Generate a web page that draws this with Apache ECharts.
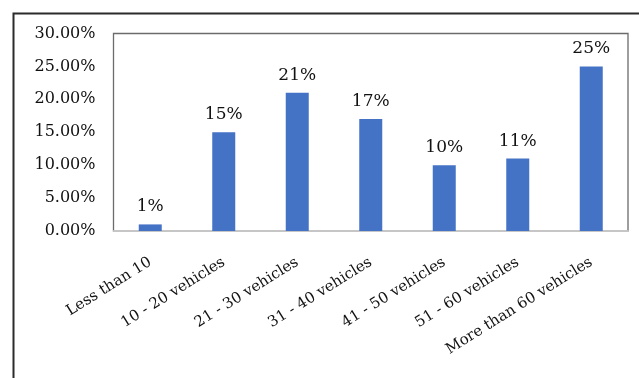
<!DOCTYPE html>
<html>
<head>
<meta charset="utf-8">
<script src="https://cdn.jsdelivr.net/npm/echarts@6/dist/echarts.min.js"></script>
<style>
  html, body { margin: 0; padding: 0; background: #ffffff; }
  #chart { width: 639px; height: 378px; }
</style>
</head>
<body>
<div id="chart"></div>
<script>
// Share of respondents by fleet size
const categories = [
  'Less than 10',
  '10 - 20 vehicles',
  '21 - 30 vehicles',
  '31 - 40 vehicles',
  '41 - 50 vehicles',
  '51 - 60 vehicles',
  'More than 60 vehicles'
];
const shares = [1, 15, 21, 17, 10, 11, 25];
const axisMin = 0;
const axisMax = 30;
const axisStep = 5;

const serif = 'DejaVu Serif';
const chart = echarts.init(document.getElementById('chart'), null, { renderer: 'canvas' });

chart.setOption({
  animation: false,
  backgroundColor: '#ffffff',
  graphic: [
    {
      type: 'rect',
      shape: { x: 13.5, y: 13.5, width: 800, height: 600 },
      style: { fill: 'none', stroke: '#2b2b2b', lineWidth: 2 },
      silent: true,
      z: 0
    }
  ],
  grid: {
    left: 113.5,
    top: 33.5,
    right: 11,
    bottom: 147,
    containLabel: false,
    show: true,
    borderColor: '#6b6b6b',
    borderWidth: 1.3,
    backgroundColor: 'transparent'
  },
  xAxis: {
    type: 'category',
    data: categories,
    axisTick: { show: false },
    axisLine: { show: true, lineStyle: { color: '#d9d9d9', width: 1.5 } },
    axisLabel: {
      interval: 0,
      rotate: 32,
      margin: 30,
      fontFamily: serif,
      fontSize: 15,
      color: '#111111'
    },
    splitLine: { show: false }
  },
  yAxis: {
    type: 'value',
    min: axisMin,
    max: axisMax,
    interval: axisStep,
    axisLine: { show: false },
    axisTick: { show: false },
    splitLine: { show: false },
    axisLabel: {
      margin: 18,
      fontFamily: serif,
      fontSize: 16,
      color: '#111111',
      formatter: v => v.toFixed(2) + '%'
    }
  },
  series: [
    {
      type: 'bar',
      data: shares,
      barWidth: 23,
      itemStyle: { color: '#4472c4' },
      label: {
        show: true,
        position: 'top',
        distance: 9,
        fontFamily: serif,
        fontSize: 17,
        color: '#111111',
        formatter: p => p.value + '%'
      }
    }
  ]
});
</script>
</body>
</html>
